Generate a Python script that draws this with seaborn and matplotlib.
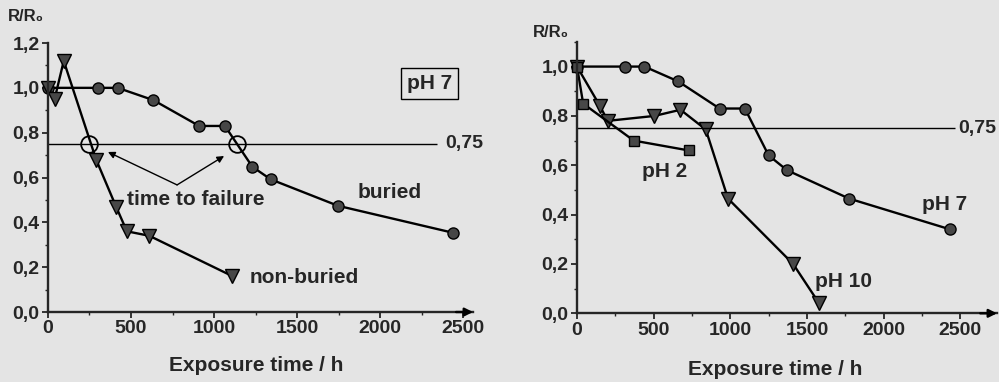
import matplotlib
matplotlib.use("Agg")
import matplotlib.pyplot as plt
import seaborn as sns
from matplotlib.ticker import MultipleLocator

# left panel: pH 7, buried vs non-buried
buried_t = [0, 300, 420, 635, 910, 1065, 1230, 1340, 1745, 2435]
buried_r = [1.0, 1.0, 1.0, 0.945, 0.83, 0.83, 0.648, 0.592, 0.474, 0.354]
nonburied_t = [0, 40, 95, 290, 410, 475, 610, 1110]
nonburied_r = [1.0, 0.95, 1.12, 0.68, 0.47, 0.36, 0.34, 0.16]
failure_t = [245, 1135]
failure_r = [0.75, 0.75]

# right panel: buried at different pH
ph7_t = [0, 315, 440, 660, 930, 1095, 1250, 1370, 1775, 2435]
ph7_r = [1.0, 1.0, 1.0, 0.94, 0.83, 0.83, 0.64, 0.58, 0.465, 0.34]
ph10_t = [0, 150, 200, 505, 675, 840, 985, 1410, 1580]
ph10_r = [1.0, 0.84, 0.78, 0.80, 0.825, 0.745, 0.465, 0.2, 0.04]
ph2_t = [0, 40, 370, 730]
ph2_r = [1.0, 0.85, 0.70, 0.66]

threshold = 0.75
x_ticks = [0, 500, 1000, 1500, 2000, 2500]
y_ticks = [0.0, 0.2, 0.4, 0.6, 0.8, 1.0, 1.2]
y_ticklabels = ["0,0", "0,2", "0,4", "0,6", "0,8", "1,0", "1,2"]

bg = "#e4e4e4"
sns.set_theme(style="ticks")
plt.rcParams["font.family"] = ["Liberation Sans", "DejaVu Sans"]
plt.rcParams["font.weight"] = "bold"

fig = plt.figure(figsize=(9.99, 3.82), dpi=100, facecolor=bg)
ax1 = fig.add_axes([0.048, 0.1832, 0.4255, 0.7042])
ax2 = fig.add_axes([0.5776, 0.1798, 0.4204, 0.7105])

mk = dict(color="black", lw=1.7, markerfacecolor="#474747", markeredgecolor="black",
          markeredgewidth=1.0, estimator=None, sort=False, legend=False, clip_on=False)

# left
sns.lineplot(x=buried_t, y=buried_r, marker="o", markersize=8, ax=ax1, **mk)
sns.lineplot(x=nonburied_t, y=nonburied_r, marker="v", markersize=10, ax=ax1, **mk)
ax1.hlines(threshold, 0, 2340, color="black", lw=1.0)
ax1.plot(failure_t, failure_r, "o", ms=12, mfc="none", mec="black", mew=1.3)
ax1.text(2390, threshold, "0,75", va="center", ha="left", fontsize=14, fontweight="bold")
for end in [(361, 0.714), (1060, 0.696)]:
    ax1.annotate("", xy=end, xytext=(777, 0.567),
                 arrowprops=dict(arrowstyle="-|>", color="black", lw=1.0,
                                 mutation_scale=10, shrinkA=0, shrinkB=0))
ax1.text(476, 0.50, "time to failure", va="center", ha="left", fontsize=15, fontweight="bold")
ax1.text(2059, 0.535, "buried", va="center", ha="center", fontsize=15, fontweight="bold")
ax1.text(1541, 0.156, "non-buried", va="center", ha="center", fontsize=15, fontweight="bold")
ax1.text(2294, 1.02, "pH 7", va="center", ha="center", fontsize=15, fontweight="bold",
         bbox=dict(boxstyle="square,pad=0.28", fc=bg, ec="black", lw=1.0))
ax1.set_xlim(0, 2558)
ax1.set_ylim(0, 1.2)
ax1.set_yticks(y_ticks)
ax1.set_yticklabels(y_ticklabels)

# right
sns.lineplot(x=ph7_t, y=ph7_r, marker="o", markersize=8, ax=ax2, **mk)
sns.lineplot(x=ph10_t, y=ph10_r, marker="v", markersize=10, ax=ax2, **mk)
sns.lineplot(x=ph2_t, y=ph2_r, marker="s", markersize=7, ax=ax2, **mk)
ax2.hlines(threshold, 0, 2464, color="black", lw=1.0)
ax2.text(2484, threshold, "0,75", va="center", ha="left", fontsize=14, fontweight="bold")
ax2.text(574, 0.573, "pH 2", va="center", ha="center", fontsize=15, fontweight="bold")
ax2.text(2400, 0.44, "pH 7", va="center", ha="center", fontsize=15, fontweight="bold")
ax2.text(1741, 0.13, "pH 10", va="center", ha="center", fontsize=15, fontweight="bold")
ax2.set_xlim(0, 2740)
ax2.set_ylim(0, 1.1)
ax2.set_yticks(y_ticks[:-1])
ax2.set_yticklabels(y_ticklabels[:-1])

for ax, lab_xy, xl_xy in [(ax1, (-0.094, 1.097), (0.489, -0.164)),
                          (ax2, (-0.105, 1.033), (0.471, -0.172))]:
    ax.set_facecolor(bg)
    sns.despine(ax=ax)
    ax.spines["left"].set_linewidth(1.7)
    ax.spines["bottom"].set_linewidth(1.7)
    ax.set_xticks(x_ticks)
    ax.xaxis.set_minor_locator(MultipleLocator(250))
    ax.yaxis.set_minor_locator(MultipleLocator(0.1))
    ax.tick_params(which="major", direction="out", length=4, width=1.3,
                   labelsize=14, pad=2)
    ax.tick_params(which="minor", direction="out", length=2.5, width=1.0)
    for t in ax.get_xticklabels() + ax.get_yticklabels():
        t.set_fontweight("bold")
    ax.annotate("", xy=(1.0, 0), xytext=(0.96, 0), xycoords="axes fraction",
                arrowprops=dict(arrowstyle="-|>", color="black", lw=1.7,
                                mutation_scale=12, shrinkA=0, shrinkB=0))
    ax.set_ylabel("R/R\u2080", rotation=0, ha="left", va="center",
                  fontsize=12, fontweight="bold")
    ax.yaxis.set_label_coords(*lab_xy)
    ax.set_xlabel("Exposure time / h", fontsize=15, fontweight="bold")
    ax.xaxis.set_label_coords(*xl_xy)

fig.savefig("out.png", dpi=100, facecolor=bg)
